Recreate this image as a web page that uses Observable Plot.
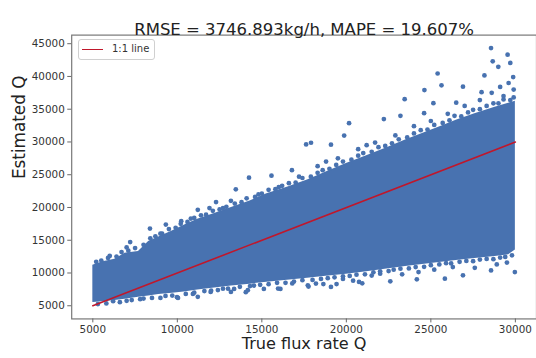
<!DOCTYPE html>
<html>
<head>
<meta charset="utf-8">
<script src="https://cdn.jsdelivr.net/npm/d3@7"></script>
<script src="https://cdn.jsdelivr.net/npm/@observablehq/plot@0.6"></script>
<style>
  html, body { margin: 0; padding: 0; background: #fff; }
  #wrap { position: relative; width: 536px; height: 358px; overflow: hidden; font-family: "DejaVu Sans", sans-serif; }
  #legend { position: absolute; left: 78px; top: 39px; width: 77px; height: 21px; border: 1px solid #d0d0d0; border-radius: 3px; background: #fff; box-sizing: border-box; }
  #legend .sw { position: absolute; left: 3px; top: 9px; width: 21px; height: 0; border-top: 1.6px solid #c0172b; }
  #legend .lb { position: absolute; left: 33px; top: 3px; font-size: 10px; color: #333; white-space: nowrap; }
</style>
</head>
<body>
<div id="wrap"></div>
<script>
// Dense band of estimates (envelope)
const bandX    = [5000, 5600, 6300, 6900, 7700, 8300, 8900, 9700, 10400, 11200, 12200, 13200, 14300, 15300, 16500, 17700, 18800, 20000, 21200, 22400, 23500, 24500, 25500, 26500, 27600, 28800, 29600, 30000];
const bandHigh = [11200, 11700, 12100, 13000, 13300, 14800, 15500, 16400, 17300, 18200, 19100, 20000, 21000, 22100, 23100, 24200, 25400, 26700, 27900, 29100, 30300, 31300, 32300, 33300, 34300, 35300, 35900, 36200];
const bandLow  = [5500, 5600, 5800, 6000, 6300, 6500, 6700, 6900, 7100, 7400, 7700, 8000, 8300, 8600, 8900, 9200, 9500, 9800, 10200, 10600, 11000, 11300, 11600, 11900, 12200, 12500, 12800, 13500];

// Ragged points along the top edge of the band
const edgeTopX = [5200, 5500, 5900, 6400, 6700, 7100, 7500, 8000, 8400, 8700, 9100, 9500, 9900, 10200, 10600, 11000, 11400, 11700, 12100, 12500, 12900, 13400, 13800, 14100, 14600, 15000, 15400, 15800, 16200, 16600, 17000, 17400, 17900, 18300, 18600, 19000, 19400, 19800, 20300, 20700, 21000, 21500, 21900, 22300, 22700, 23100, 23600, 24000, 24400, 24800, 25200, 25700, 26100, 26400, 26800, 27200, 27500, 27900, 28300, 28700, 29000, 29300, 29700, 29900];
const edgeTopY = [11700, 11900, 12300, 12500, 13200, 13400, 13800, 14300, 15300, 15600, 16000, 16700, 16900, 17500, 17800, 18400, 18800, 18900, 19500, 19700, 20100, 20600, 20800, 21400, 21600, 22100, 22700, 22800, 23300, 23700, 23800, 24500, 24700, 25300, 25700, 25900, 26500, 27000, 27300, 27900, 28300, 28500, 29200, 29400, 29800, 30400, 30700, 31300, 31800, 31900, 32600, 32900, 33300, 34000, 33900, 34500, 34900, 35000, 35500, 35900, 35900, 36500, 36400, 36800];

// Ragged points along the bottom edge of the band
const edgeLowX = [5300, 5800, 6600, 7000, 7800, 8500, 9300, 9700, 10500, 11000, 11600, 12000, 12700, 13000, 13700, 14300, 14900, 15400, 15900, 16400, 16900, 17400, 18000, 18500, 18900, 19300, 19800, 20200, 20600, 21100, 21600, 22000, 22500, 22800, 23200, 23700, 24100, 24600, 25000, 25500, 25900, 26200, 26700, 27100, 27500, 27900, 28300, 28700, 29100, 29400, 29800];
const edgeLowY = [5250, 5350, 5550, 5750, 6000, 6200, 6500, 6550, 6800, 7000, 7250, 7300, 7600, 7600, 7900, 8000, 8200, 8300, 8500, 8500, 8700, 8900, 8950, 9100, 9200, 9350, 9500, 9550, 9750, 9800, 10100, 10250, 10300, 10500, 10650, 10700, 10900, 10950, 11200, 11300, 11500, 11450, 11700, 11850, 11800, 12050, 12150, 12100, 12350, 12450, 12700];

// Scattered outliers above the band
const upperX = [28560, 29540, 28660, 29700, 28990, 25400, 28170, 29870, 25630, 26900, 24620, 23450, 25150, 22220, 23200, 20160, 19870, 19090, 17620, 17910, 15570, 14240, 13460, 16780, 13170, 12290, 7210, 8380, 9320, 11210, 11900, 10230,
                6000, 7000, 9000, 10800, 12700, 14800, 16000, 17200, 18300, 19500, 20700, 21700, 22900, 24000, 25000, 26000, 27000, 27900, 28600, 29300, 29900, 29600, 29100, 28000, 26500, 24600, 21200, 18800];
const upperY = [44340, 43330, 42310, 42070, 41470, 40450, 40150, 39900, 38640, 38440, 37930, 36530, 35920, 33500, 34000, 32860, 30980, 29580, 29620, 29880, 24850, 24550, 22780, 25700, 21010, 20820, 14730, 16780, 17390, 19650, 19910, 17900,
                12600, 13900, 16000, 18300, 19900, 22000, 23100, 24700, 26300, 27500, 28900, 29900, 31000, 32400, 33200, 34300, 35500, 36400, 37500, 37000, 38000, 39000, 38400, 37600, 36000, 34400, 29500, 27000];
// Scattered outliers below the band
const lowerX = [7300, 9000, 9980, 10040, 10920, 11210, 11970, 13170, 14050, 14170, 13360, 14530, 15120, 15960, 16100, 17720, 17760, 18200, 18640, 19090, 19420, 20400, 20750, 20940, 22600, 24170, 24270, 25830, 26900, 28560, 29970,
                6200, 8000, 12400, 16800, 21500, 23300, 25200, 27600, 28900, 29500, 26300, 22000, 19800];
const lowerY = [5860, 6200, 6300, 6200, 6810, 6360, 7110, 7110, 7070, 7370, 7570, 8080, 7570, 7630, 7570, 8130, 7930, 8380, 8320, 7870, 8320, 8830, 8630, 8430, 8730, 9030, 10140, 9140, 9640, 10390, 10140,
                5700, 6100, 7400, 8400, 9600, 9800, 10500, 10800, 11300, 11600, 10900, 9900, 9100];

// 1:1 reference line
const lineX = [5000, 30000];
const lineY = [5000, 30000];

const xTicks = [5000, 10000, 15000, 20000, 25000, 30000];
const yTicks = [5000, 10000, 15000, 20000, 25000, 30000, 35000, 40000, 45000];

const titleText = "RMSE = 3746.893kg/h, MAPE = 19.607%";
const xLabel = "True flux rate Q";
const yLabel = "Estimated Q";

const blue = "#4872b0";
const red = "#c0172b";

const band = bandX.map((x, i) => ({x, lo: bandLow[i], hi: bandHigh[i]}));
const toPts = (xs, ys) => xs.map((x, i) => ({x, y: ys[i]}));
const pts = [].concat(toPts(edgeTopX, edgeTopY), toPts(edgeLowX, edgeLowY), toPts(upperX, upperY), toPts(lowerX, lowerY));
const line = toPts(lineX, lineY);

const chart = Plot.plot({
  width: 542,
  height: 358,
  marginLeft: 72,
  marginRight: 0,
  marginTop: 35,
  marginBottom: 36,
  style: {fontFamily: "DejaVu Sans, sans-serif", background: "#fff", overflow: "visible"},
  x: {domain: [3750, 31250]},
  y: {domain: [2990, 46310]},
  marks: [
    Plot.areaY(band, {x: "x", y1: "lo", y2: "hi", fill: blue}),
    Plot.dot(pts, {x: "x", y: "y", r: 2.4, fill: blue}),
    Plot.line(line, {x: "x", y: "y", stroke: red, strokeWidth: 1.6}),
    Plot.frame({stroke: "#777", strokeWidth: 1.2}),
    Plot.axisX({ticks: xTicks, tickFormat: d => String(d), tickSize: 4, tickPadding: 3, fontSize: 10.5, label: null, stroke: "#666", color: "#333"}),
    Plot.axisY({ticks: yTicks, tickFormat: d => String(d), tickSize: 4, tickPadding: 3, fontSize: 10.5, label: null, stroke: "#666", color: "#333"}),
    Plot.text([titleText], {frameAnchor: "top", dy: -12, fontSize: 16.7, fill: "#222"}),
    Plot.text([xLabel], {frameAnchor: "bottom", dy: 30.5, fontSize: 16.3, fill: "#222"}),
    Plot.text([yLabel], {frameAnchor: "left", dx: -53, dy: 2, rotate: -90, fontSize: 17, fill: "#222"})
  ]
});
const wrap = document.getElementById("wrap");
wrap.appendChild(chart);
const lg = document.createElement("div");
lg.id = "legend";
lg.innerHTML = '<div class="sw"></div><div class="lb">1:1 line</div>';
wrap.appendChild(lg);
</script>
</body>
</html>
